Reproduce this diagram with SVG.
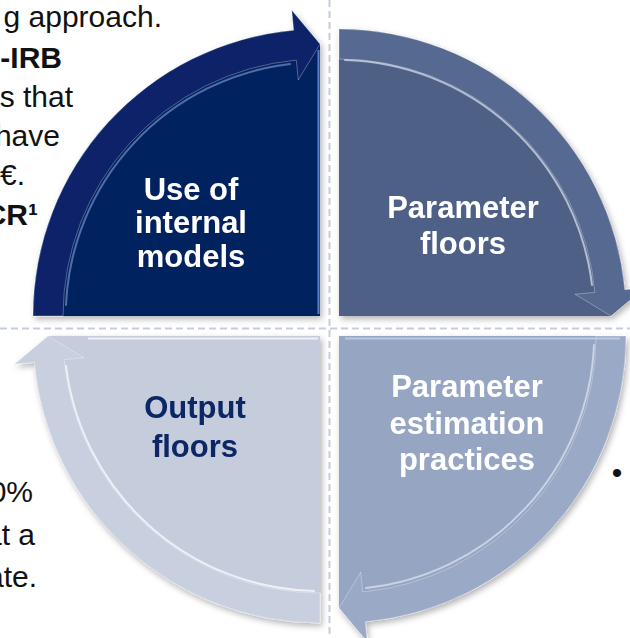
<svg xmlns="http://www.w3.org/2000/svg" width="630" height="638" viewBox="0 0 630 638">
  <style>
    .bg-text { font-family: "Liberation Sans", Arial, sans-serif; font-size: 30px; fill: #111111; }
    .bg-bold { font-weight: bold; }
    .label { font-family: "Liberation Sans", Arial, sans-serif; font-size: 31px; font-weight: bold; text-anchor: middle; }
    .guide { stroke: #c4cde0; stroke-width: 2; stroke-dasharray: 7 4; fill: none; }
    .band { stroke: #ffffff; stroke-opacity: 0.3; stroke-width: 1; }
    .hl { fill: none; stroke-width: 2; stroke-linecap: round; }
  </style>
  <defs>
    <filter id="shadow" x="-10%" y="-10%" width="120%" height="120%">
      <feDropShadow dx="2" dy="3" stdDeviation="3" flood-color="#000000" flood-opacity="0.3"/>
    </filter>
  </defs>

  <rect width="630" height="638" fill="#ffffff"/>

  <!-- surrounding body text, partly hidden behind the cycle -->
  <g id="backdrop-text" class="bg-text">
    <text x="162" y="27" text-anchor="end">g approach.</text>
    <text x="62" y="68" text-anchor="end" class="bg-bold">A-IRB</text>
    <text x="73" y="107" text-anchor="end">s that</text>
    <text x="60" y="146" text-anchor="end">have</text>
    <text x="25" y="185" text-anchor="end">€.</text>
    <text x="38" y="225" text-anchor="end" class="bg-bold">CR¹</text>
    <text x="33" y="502" text-anchor="end">0%</text>
    <text x="35" y="545" text-anchor="end">at a</text>
    <text x="37" y="587" text-anchor="end">ate.</text>
    <text x="617" y="483" text-anchor="middle">•</text>
  </g>

  <!-- dashed quadrant guides -->
  <g id="guides">
    <line class="guide" x1="329.5" y1="0" x2="329.5" y2="638"/>
    <line class="guide" x1="0" y1="328.5" x2="630" y2="328.5"/>
  </g>

  <!-- top-left quadrant -->
  <g id="node-internal-models" filter="url(#shadow)">
    <path d="M320,316 L48,316 A272,272 0 0 1 320,44 Z" fill="#06215f"/>
    <path class="band" d="M33,316 A287,287 0 0 1 293.64,30.21 L291.8,10.3 L320,44 L298.23,80 L296.39,60.09 A257,257 0 0 0 63,316 Z" fill="#072468"/>
    <path class="hl" d="M66,305 A254,254 0 0 1 290,64" stroke="#7ea4de" stroke-opacity="0.6"/>
    <line x1="318.5" y1="50" x2="318.5" y2="314" stroke="#6f9be0" stroke-width="2" stroke-opacity="0.8"/>
    <text class="label" x="191" y="200" fill="#ffffff">Use of</text>
    <text class="label" x="191" y="233" fill="#ffffff">internal</text>
    <text class="label" x="191" y="267" fill="#ffffff">models</text>
  </g>

  <!-- top-right quadrant -->
  <g id="node-parameter-floors" filter="url(#shadow)">
    <path d="M339,316 L339,44 A272,272 0 0 1 611,316 Z" fill="#4f6186"/>
    <path class="band" d="M339,29 A287,287 0 0 1 624.79,289.64 L644.7,287.8 L611,316 L575,294.23 L594.91,292.39 A257,257 0 0 0 339,59 Z" fill="#566990"/>
    <path class="hl" d="M345,60 A256,256 0 0 1 592,285" stroke="#d4dcec" stroke-opacity="0.75"/>
    <text class="label" x="463" y="218" fill="#ffffff">Parameter</text>
    <text class="label" x="463" y="254" fill="#ffffff">floors</text>
  </g>

  <!-- bottom-right quadrant -->
  <g id="node-estimation-practices" filter="url(#shadow)">
    <path d="M339,336 L611,336 A272,272 0 0 1 339,608 Z" fill="#96a5c2"/>
    <path class="band" d="M626,336 A287,287 0 0 1 365.36,621.79 L367.2,641.7 L339,608 L360.77,572 L362.61,591.91 A257,257 0 0 0 596,336 Z" fill="#9aa9c6"/>
    <path class="hl" d="M594,345 A256,256 0 0 1 366,588" stroke="#dfe6f3" stroke-opacity="0.7"/>
    <line x1="345" y1="338.5" x2="620" y2="338.5" stroke="#c5d1e8" stroke-width="2" stroke-opacity="0.8"/>
    <text class="label" x="467" y="397" fill="#ffffff">Parameter</text>
    <text class="label" x="467" y="434" fill="#ffffff">estimation</text>
    <text class="label" x="467" y="470" fill="#ffffff">practices</text>
  </g>

  <!-- bottom-left quadrant -->
  <g id="node-output-floors" filter="url(#shadow)">
    <path d="M320,336 L320,608 A272,272 0 0 1 48,336 Z" fill="#c5cddc"/>
    <path class="band" d="M320,623 A287,287 0 0 1 34.21,362.36 L14.3,364.2 L48,336 L84,357.77 L64.09,359.61 A257,257 0 0 0 320,593 Z" fill="#c8d0df"/>
    <path class="hl" d="M314,591 A256,256 0 0 1 66,366" stroke="#f1f4f9" stroke-opacity="0.9"/>
    <line x1="88" y1="338.5" x2="318" y2="338.5" stroke="#eef2f8" stroke-width="2"/>
    <text class="label" x="195" y="418" fill="#0b2565">Output</text>
    <text class="label" x="195" y="457" fill="#0b2565">floors</text>
  </g>
</svg>
